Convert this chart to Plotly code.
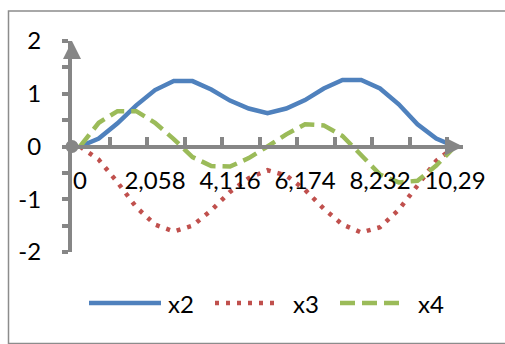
import plotly.graph_objects as go

# Sample positions (time) and the three solution curves
t = [0, 0.5145, 1.029, 1.5435, 2.058, 2.5725, 3.087, 3.6015, 4.116, 4.6305,
     5.145, 5.6595, 6.174, 6.6885, 7.203, 7.7175, 8.232, 8.7465, 9.261, 9.7755, 10.29]
x2 = [0, 0.15, 0.44, 0.78, 1.07, 1.24, 1.24, 1.08, 0.87, 0.72, 0.63,
      0.72, 0.88, 1.10, 1.26, 1.26, 1.10, 0.80, 0.42, 0.15, 0]
x3 = [0, -0.25, -0.68, -1.15, -1.48, -1.61, -1.50, -1.21, -0.86, -0.60, -0.45,
      -0.55, -0.82, -1.18, -1.48, -1.63, -1.53, -1.20, -0.74, -0.27, 0]
x4 = [0, 0.45, 0.67, 0.67, 0.45, 0.14, -0.20, -0.37, -0.38, -0.22, 0.0,
      0.23, 0.42, 0.40, 0.20, -0.16, -0.53, -0.68, -0.65, -0.36, 0]

x_tick_vals = [0, 2.058, 4.116, 6.174, 8.232, 10.29]
x_tick_text = ["0", "2,058", "4,116", "6,174", "8,232", "10,29"]
y_tick_vals = [-2, -1, 0, 1, 2]
y_tick_text = ["-2", "-1", "0", "1", "2"]
y_minor_vals = [-1.5, -0.5, 0.5, 1.5]

names = ["x2", "x3", "x4"]
colors = ["#4F81BD", "#C0504D", "#9BBB59"]
dashes = ["solid", "4px,7px", "15px,7px"]

W, H = 505, 344
L, R, T, B = 72, 463, 41, 252          # plot area in pixels
ppu = 375 / 10.29                       # pixels per x unit
x_lo = -8 / ppu
x_hi = (R - 80) / ppu
axis_grey = "#868686"
font = dict(family="Lato, Calibri, sans-serif", size=24, color="black")


def px_x(p):
    return (p - L) / (R - L)


def px_y(p):
    return (B - p) / (B - T)


fig = go.Figure()
for name, ys, c, d in zip(names, [x2, x3, x4], colors, dashes):
    fig.add_trace(go.Scatter(x=t, y=ys, mode="lines", name=name,
                             line=dict(color=c, width=4.5, dash=d),
                             cliponaxis=False, showlegend=False))

# round cap at the origin of the axes
fig.add_trace(go.Scatter(x=[x_lo], y=[0], mode="markers",
                         marker=dict(size=13, color=axis_grey),
                         cliponaxis=False, showlegend=False, hoverinfo="skip"))

tick_pos = [x_lo + k * 1.029 for k in range(1, 11)]

fig.update_layout(
    width=W, height=H,
    margin=dict(l=L, r=W - R, t=T, b=H - B, pad=0),
    paper_bgcolor="white", plot_bgcolor="white",
    font=font,
    showlegend=False,
    xaxis=dict(range=[x_lo, x_hi], anchor="free", position=0.5,
               showline=True, linecolor=axis_grey, linewidth=4,
               showgrid=False, zeroline=False,
               tickmode="array", tickvals=x_tick_vals, ticktext=x_tick_text,
               ticks="", ticklabelstandoff=12,
               minor=dict(tickmode="array", tickvals=tick_pos, ticks="inside",
                          ticklen=8, tickwidth=4, tickcolor=axis_grey,
                          showgrid=False)),
    yaxis=dict(range=[-2, 2], showline=True, linecolor=axis_grey, linewidth=4,
               showgrid=False, zeroline=False,
               tickmode="array", tickvals=y_tick_vals, ticktext=y_tick_text,
               ticks="outside", ticklen=6, tickwidth=4, tickcolor=axis_grey,
               ticklabelstandoff=16,
               minor=dict(tickmode="array", tickvals=y_minor_vals, ticks="outside",
                          ticklen=6, tickwidth=4, tickcolor=axis_grey,
                          showgrid=False)),
)

# arrow heads at the ends of both axes
fig.add_annotation(x=x_lo, y=2, xref="x", yref="y", ax=0, ay=18, text="",
                   showarrow=True, arrowhead=2, arrowwidth=4, arrowsize=0.9,
                   arrowcolor=axis_grey, standoff=0)
fig.add_annotation(x=x_hi, y=0, xref="x", yref="y", ax=-18, ay=0, text="",
                   showarrow=True, arrowhead=2, arrowwidth=4, arrowsize=0.9,
                   arrowcolor=axis_grey, standoff=0)

# chart frame
fig.add_shape(type="rect", xref="paper", yref="paper",
              x0=px_x(8.5), x1=px_x(520), y0=px_y(343.5), y1=px_y(11),
              line=dict(color="#8c8c8c", width=1.5), fillcolor="rgba(0,0,0,0)",
              layer="below")

# legend row
leg_y = 303
samples = [(89, 161, 166), (215, 277, 291), (340, 403, 416)]
for (s0, s1, tx), name, c, d in zip(samples, names, colors, dashes):
    fig.add_shape(type="line", xref="paper", yref="paper",
                  x0=px_x(s0), x1=px_x(s1), y0=px_y(leg_y), y1=px_y(leg_y),
                  line=dict(color=c, width=4.5, dash=d))
    fig.add_annotation(x=px_x(tx), y=px_y(leg_y), xref="paper", yref="paper",
                       text=name, showarrow=False, xanchor="left", yanchor="middle",
                       font=font)

fig.write_html("out.html")
